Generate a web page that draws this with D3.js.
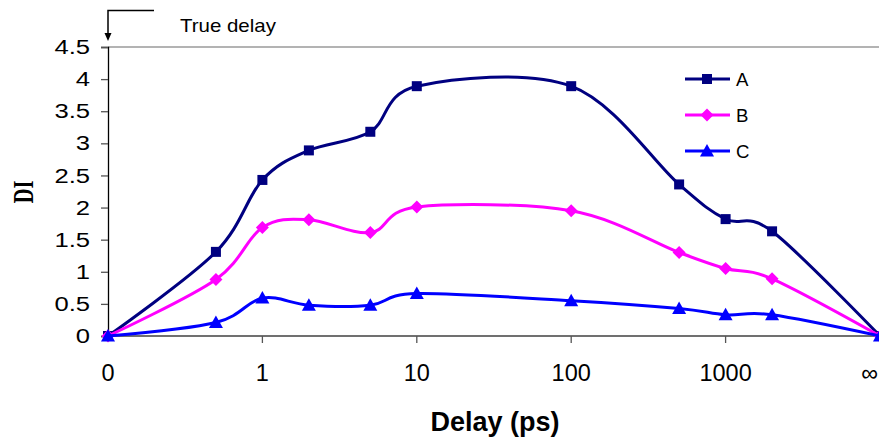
<!DOCTYPE html>
<html>
<head>
<meta charset="utf-8">
<script src="https://cdn.jsdelivr.net/npm/d3@7"></script>
<style>
  html, body { margin: 0; padding: 0; background: #fff; }
  svg { display: block; }
  text { font-family: Arial, "Liberation Sans", sans-serif; fill: #000; }
</style>
</head>
<body>
<svg id="chart" width="879" height="439"></svg>
<script>
// Delay points (ps); 0 and ∞ sit one decade below 1 and one decade above 1000
const delays = [0, 0.5, 1, 2, 5, 10, 100, 500, 1000, 2000, Infinity];
const seriesNames = ["A", "B", "C"];
const valuesA = [0, 1.31, 2.43, 2.89, 3.18, 3.89, 3.89, 2.36, 1.82, 1.63, 0];
const valuesB = [0, 0.88, 1.69, 1.81, 1.61, 2.01, 1.95, 1.30, 1.05, 0.89, 0];
const valuesC = [0, 0.21, 0.59, 0.48, 0.48, 0.66, 0.55, 0.43, 0.33, 0.33, 0];
const seriesColors = ["#000080", "#FF00FF", "#0000FF"];
const seriesMarkers = ["square", "diamond", "triangle"];
const xTickValues = [0, 1, 10, 100, 1000, Infinity];
const xTickLabels = ["0", "1", "10", "100", "1000", "\u221E"];
const yTickValues = [0, 0.5, 1, 1.5, 2, 2.5, 3, 3.5, 4, 4.5];

const svg = d3.select("#chart");

const toLog = d => (d === 0 ? 0.1 : (d === Infinity ? 10000 : d));
const x = d3.scaleLog().domain([0.1, 10000]).range([108, 880]);
const y = d3.scaleLinear().domain([0, 4.5]).range([336, 47]);
const xp = d => x(toLog(d));

// top gridline at the axis maximum
svg.append("line")
  .attr("x1", 108).attr("x2", 879)
  .attr("y1", y(4.5)).attr("y2", y(4.5))
  .attr("stroke", "#9a9a9a").attr("stroke-width", 1.5);

// y axis
const yAxis = d3.axisLeft(y).tickValues(yTickValues).tickSize(7).tickFormat("");
const gy = svg.append("g").attr("transform", "translate(108,0)").call(yAxis);
gy.select(".domain").attr("stroke", "#000").attr("stroke-width", 1.3);
gy.selectAll(".tick line").attr("stroke", "#555").attr("stroke-width", 1.3);

yTickValues.forEach(v => {
  svg.append("text")
    .attr("transform", `translate(90,${y(v)}) scale(1.25,1)`)
    .attr("text-anchor", "end")
    .attr("dominant-baseline", "central")
    .attr("font-size", 20.5)
    .text(d3.format("")(v));
});

// x axis
const gx = svg.append("g").attr("transform", "translate(0,336)");
gx.append("line").attr("x1", 108).attr("x2", 879)
  .attr("stroke", "#707070").attr("stroke-width", 2);
[1, 10, 100, 1000].forEach(v => {
  gx.append("line").attr("x1", xp(v)).attr("x2", xp(v))
    .attr("y1", 0).attr("y2", 7)
    .attr("stroke", "#555").attr("stroke-width", 1.3);
});
xTickValues.forEach((v, i) => {
  svg.append("text")
    .attr("x", v === Infinity ? 878 : xp(v)).attr("y", 381)
    .attr("text-anchor", v === Infinity ? "end" : "middle")
    .attr("font-size", 23.5)
    .text(xTickLabels[i]);
});

// axis titles
svg.append("text")
  .attr("x", 495).attr("y", 431)
  .attr("text-anchor", "middle")
  .attr("font-size", 27).attr("font-weight", "bold")
  .text("Delay (ps)");

svg.append("text")
  .attr("transform", "translate(33,192) rotate(-90) scale(0.85,1.25)")
  .attr("text-anchor", "middle")
  .style("font-family", "'Times New Roman', 'Liberation Serif', serif")
  .attr("font-size", 24).attr("font-weight", "bold")
  .text("DI");

// "True delay" annotation with bent arrow
svg.append("path")
  .attr("d", `M154,10.5 H${xp(0)} V35`)
  .attr("fill", "none").attr("stroke", "#000").attr("stroke-width", 1.5);
svg.append("path")
  .attr("d", `M${xp(0) - 3.5},33 L${xp(0) + 3.5},33 L${xp(0)},41 Z`)
  .attr("fill", "#000");
svg.append("text")
  .attr("transform", "translate(180,32) scale(1.1,1)")
  .attr("font-size", 18.6)
  .text("True delay");

// series
const allValues = [valuesA, valuesB, valuesC];
const line = d3.line()
  .x(d => xp(d[0]))
  .y(d => y(d[1]))
  .curve(d3.curveCardinal.tension(0));

function marker(sel, type, color) {
  if (type === "square") {
    sel.append("rect").attr("x", -5).attr("y", -5).attr("width", 10).attr("height", 10).attr("fill", color);
  } else if (type === "diamond") {
    sel.append("path").attr("d", "M0,-6.5 L6.5,0 L0,6.5 L-6.5,0 Z").attr("fill", color);
  } else {
    sel.append("path").attr("d", "M0,-7 L7,5.5 L-7,5.5 Z").attr("fill", color);
  }
}

allValues.forEach((vals, si) => {
  const pts = delays.map((d, i) => [d, vals[i]]);
  svg.append("path")
    .attr("d", line(pts))
    .attr("fill", "none")
    .attr("stroke", seriesColors[si])
    .attr("stroke-width", 3)
    .attr("stroke-linejoin", "round");
  pts.forEach(p => {
    const g = svg.append("g").attr("transform", `translate(${xp(p[0])},${y(p[1])})`);
    marker(g, seriesMarkers[si], seriesColors[si]);
  });
});

// legend
seriesNames.forEach((name, i) => {
  const ly = 79 + i * 36;
  svg.append("line").attr("x1", 685).attr("x2", 730)
    .attr("y1", ly).attr("y2", ly)
    .attr("stroke", seriesColors[i]).attr("stroke-width", 3);
  const g = svg.append("g").attr("transform", `translate(707,${ly})`);
  marker(g, seriesMarkers[i], seriesColors[i]);
  svg.append("text")
    .attr("x", 736).attr("y", ly + 6.5)
    .attr("font-size", 18.6)
    .text(name);
});
</script>
</body>
</html>
